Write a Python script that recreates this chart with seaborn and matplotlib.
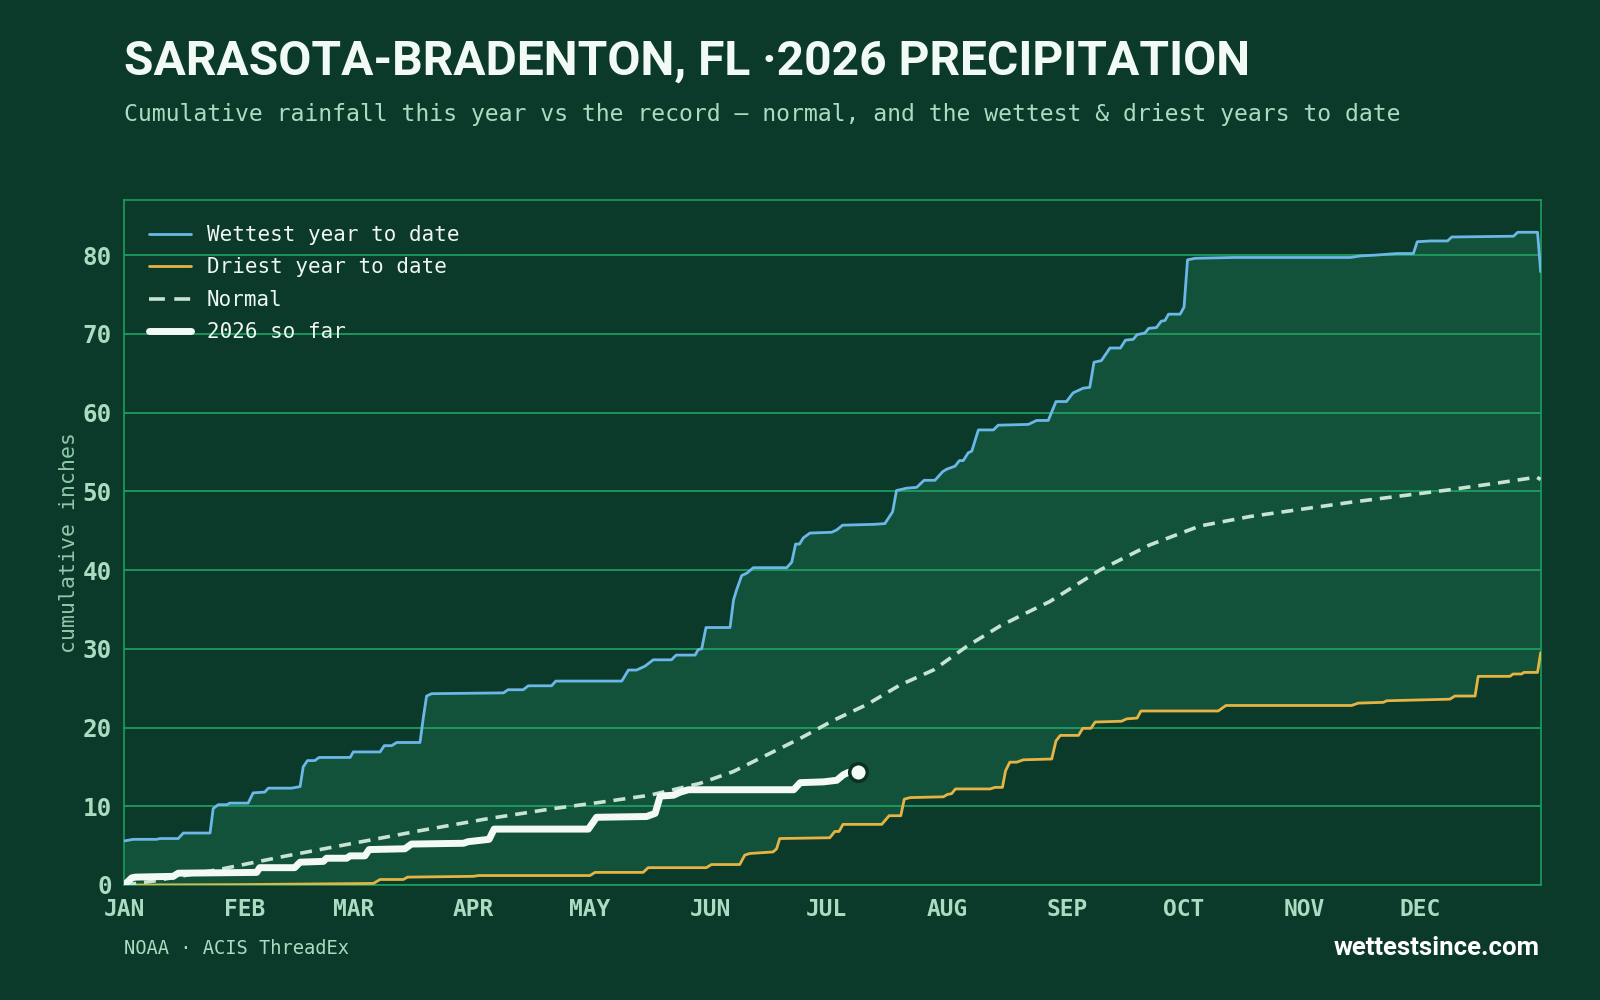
import numpy as np
import pandas as pd
import seaborn as sns
import matplotlib.pyplot as plt

# ---- data (day of year, cumulative inches) ----
wet_day = [0, 2.3, 8.3, 9.2, 13.9, 15.2, 22.1, 22.9, 24.2, 26.4, 27.2, 31.9, 33.2, 36.2, 37.1, 43.1,
           45.3, 46.1, 47.2, 49.1, 50.2, 58.2, 59, 65.9, 67, 68.9, 70.2, 76.2, 77.1, 77.9, 79.2, 97.7,
           98.9, 102.8, 104.1, 110.1, 111.2, 128.2, 129.9, 132, 134.2, 136.3, 141, 142.2, 147.1, 147.9,
           148.8, 149.9, 156.1, 157, 157.8, 159.1, 160.4, 162.1, 170.7, 172, 173, 174, 175, 176.7, 182.3,
           183.6, 185.1, 193, 196, 198, 199, 201.6, 204.2, 206.1, 208.9, 210.9, 211.9, 214.1, 215.2,
           216.2, 217.5, 218.4, 220.1, 224, 225.2, 233, 235.1, 238.1, 240.1, 242.8, 244.5, 247.1, 248.8,
           249.9, 251.8, 254, 256.7, 258, 260, 261, 263, 264, 266, 267.2, 268.2, 269.1, 272.1, 273.1,
           274, 276, 285.9, 316, 318.6, 322.4, 328, 332.2, 333.2, 336.6, 341, 342.1, 358, 359.1, 364.2, 365]
wet_in = [5.6, 5.8, 5.8, 5.9, 5.9, 6.6, 6.6, 9.7, 10.2, 10.2, 10.4, 10.4, 11.7, 11.8, 12.3, 12.3,
          12.5, 15.0, 15.8, 15.8, 16.2, 16.2, 16.9, 16.9, 17.7, 17.7, 18.1, 18.1, 21.4, 24.0, 24.3, 24.4,
          24.8, 24.8, 25.3, 25.3, 25.9, 25.9, 27.3, 27.3, 27.8, 28.6, 28.6, 29.2, 29.2, 29.9,
          30.0, 32.7, 32.7, 36.2, 37.5, 39.3, 39.6, 40.3, 40.3, 41.0, 43.3, 43.3, 44.1, 44.7, 44.8,
          45.1, 45.7, 45.8, 45.9, 47.4, 50.1, 50.4, 50.5, 51.4, 51.4, 52.5, 52.8, 53.2, 53.9,
          53.9, 54.9, 55.1, 57.8, 57.8, 58.4, 58.5, 59.0, 59.0, 61.4, 61.4, 62.5, 63.1, 63.2,
          66.4, 66.6, 68.2, 68.2, 69.2, 69.3, 69.9, 70.1, 70.7, 70.8, 71.6, 71.7, 72.5, 72.5, 73.4,
          79.4, 79.6, 79.7, 79.7, 79.9, 80.0, 80.2, 80.2, 81.7, 81.8, 81.8, 82.3, 82.4, 82.9, 82.9, 77.9]

dry_day = [0, 30, 64.2, 65.9, 71.9, 73, 90, 91.2, 120, 121.3, 133.7, 135, 150, 151.3, 158.6, 159.9,
           161.2, 167.2, 168.1, 168.9, 181.8, 183.1, 184.2, 185.2, 195.2, 197.1, 200.1, 201, 202.5,
           211.1, 212.1, 213.2, 214.2, 223.1, 224.4, 226.3, 227.1, 228.2, 230, 231.7, 239, 240.1, 241.2,
           245.9, 247, 249.1, 250.2, 257, 258.3, 261, 262, 281.9, 283.9, 316.3, 318, 324.5, 325.3,
           341.6, 342.9, 348.1, 348.9, 357.1, 357.9, 360.1, 360.7, 364.2, 365]
dry_in = [0.0, 0.05, 0.2, 0.7, 0.7, 1.0, 1.1, 1.2, 1.2, 1.6, 1.6, 2.2, 2.2, 2.6, 2.6, 3.8,
          4.0, 4.2, 4.6, 5.9, 6.0, 6.8, 6.8, 7.7, 7.7, 8.8, 8.8, 10.9, 11.1,
          11.2, 11.5, 11.6, 12.2, 12.2, 12.4, 12.4, 14.5, 15.6, 15.6, 15.9, 16.0, 18.3, 19.0,
          19.0, 19.9, 19.9, 20.7, 20.8, 21.1, 21.2, 22.1, 22.1, 22.8, 22.8, 23.1, 23.2, 23.4,
          23.6, 24.0, 24.0, 26.5, 26.5, 26.8, 26.8, 27.0, 27.0, 29.5]

norm_day = [0, 7.5, 24.7, 41.8, 59, 76.2, 93.4, 110.5, 122.6, 135.4, 148.3, 156.9, 165.5, 174.1,
            182.7, 191.3, 199.9, 208.5, 217.1, 225.7, 234.3, 238.5, 251.4, 264.3, 277.2, 290.1, 303,
            315.9, 328.7, 341.6, 354.5, 364, 365]
norm_in = [0.0, 0.5, 2.0, 3.7, 5.3, 6.9, 8.4, 9.7, 10.5, 11.4, 12.9, 14.4, 16.5, 18.6,
           20.9, 22.9, 25.4, 27.3, 30.3, 32.9, 35.0, 36.0, 40.0, 43.2, 45.6, 46.8, 47.7,
           48.6, 49.4, 50.2, 51.1, 51.8, 51.5]

cur_day = [0, 1.9, 2.8, 12.6, 13.9, 34.1, 34.9, 43.9, 45.3, 51.3, 52.1, 57.3, 58.2, 62, 63.1, 72.3,
           74, 87.4, 88.6, 94, 95.3, 119.6, 121.7, 134.6, 136.8, 138.1, 141.5, 143.3, 145.4, 172.5,
           174.2, 180.2, 183.6, 185.3, 186.6, 189]
cur_in = [0.0, 0.9, 1.0, 1.1, 1.5, 1.6, 2.2, 2.2, 2.9, 3.0, 3.4, 3.4, 3.7, 3.7, 4.5, 4.6,
          5.2, 5.3, 5.5, 5.8, 7.1, 7.1, 8.6, 8.7, 9.1, 11.3, 11.4, 11.8, 12.1, 12.1,
          13.0, 13.1, 13.3, 14.0, 14.3, 14.4]

month_start = [0, 31, 59, 90, 120, 151, 181, 212, 243, 273, 304, 334]
month_lbl = ['JAN', 'FEB', 'MAR', 'APR', 'MAY', 'JUN', 'JUL', 'AUG', 'SEP', 'OCT', 'NOV', 'DEC']

# ---- colours ----
BG = '#0b3a2a'
BAND = '#13523a'
GRID = '#1d9c60'
MINT = '#a9dcc0'
BLUE = '#6cb7e8'
GOLD = '#e6b444'
NORM = '#c6e4d1'
WHITE = '#f3faf5'

sns.set_theme(style='white')
plt.rcParams['font.family'] = ['DejaVu Sans Mono', 'DejaVu Sans']

fig = plt.figure(figsize=(16, 10), dpi=100, facecolor=BG)
ax = fig.add_axes([0.0777, 0.115, 0.8852, 0.685])
ax.set_facecolor(BG)

wet = pd.DataFrame({'day': wet_day, 'inches': wet_in})
dry = pd.DataFrame({'day': dry_day, 'inches': dry_in})
norm = pd.DataFrame({'day': norm_day, 'inches': norm_in})
cur = pd.DataFrame({'day': cur_day, 'inches': cur_in})

# band between driest and wettest: fill under wettest, then cover under driest
ax.fill_between(wet['day'], 0, wet['inches'], color=BAND, lw=0, zorder=1)
ax.fill_between(dry['day'], 0, dry['inches'], color=BG, lw=0, zorder=1.1)

sns.lineplot(data=wet, x='day', y='inches', ax=ax, color=BLUE, lw=2, label='Wettest year to date', zorder=3)
sns.lineplot(data=dry, x='day', y='inches', ax=ax, color=GOLD, lw=2, label='Driest year to date', zorder=3)
sns.lineplot(data=norm, x='day', y='inches', ax=ax, color=NORM, lw=2.6,
             label='Normal', zorder=3.5).lines[-1].set_dashes((3.3, 2.2))
sns.lineplot(data=cur, x='day', y='inches', ax=ax, color=WHITE, lw=5, label='2026 so far',
             zorder=4, solid_capstyle='round', solid_joinstyle='round')
ax.scatter(cur['day'].iloc[-1:], cur['inches'].iloc[-1:], s=160, color=WHITE,
           edgecolor='#0a3022', linewidth=2.5, zorder=5)

ax.set_xlim(0, 365)
ax.set_ylim(0, 87)
ax.set_xticks(month_start)
ax.set_xticklabels(month_lbl)
ax.set_yticks(range(0, 81, 10))
ax.grid(axis='y', color=GRID, lw=1.3)
ax.grid(axis='x', visible=False)
ax.set_axisbelow('line')
for s in ax.spines.values():
    s.set_color(GRID)
    s.set_linewidth(1.2)
ax.tick_params(axis='both', colors='#9fb8ac', length=6, width=1, direction='out',
               labelcolor=MINT, pad=3)
ax.tick_params(axis='x', labelsize=16.5)
ax.tick_params(axis='y', labelsize=17.5)
for t in ax.get_xticklabels() + ax.get_yticklabels():
    t.set_fontweight('bold')
ax.set_xlabel('')
ax.set_ylabel('cumulative inches', color='#8fc8aa', fontsize=15.5, labelpad=2.5)

leg = ax.legend(loc='upper left', bbox_to_anchor=(0.0, 1.0), frameon=False, fontsize=15,
                labelcolor='#eef7f1', handlelength=2.0, handletextpad=0.75, labelspacing=0.6,
                borderaxespad=0.8)
leg.get_lines()[2].set_dashes((4.4, 2.6))

fig.text(0.0777, 0.938, 'SARASOTA-BRADENTON, FL \u00b72026 PRECIPITATION', color='#f1faf4',
         fontsize=34.6, fontweight='bold', family=['Roboto', 'DejaVu Sans'], va='center', ha='left')
fig.text(0.0777, 0.886, 'Cumulative rainfall this year vs the record \u2014 normal, and the wettest & driest years to date',
         color=MINT, fontsize=16.65, va='center', ha='left')
fig.text(0.0777, 0.052, 'NOAA \u00b7 ACIS ThreadEx', color=MINT, fontsize=13.5, va='center', ha='left')
fig.text(0.962, 0.052, 'wettestsince.com', color='#ffffff', fontsize=18.5, fontweight='bold',
         family=['Roboto', 'DejaVu Sans'], va='center', ha='right')

fig.savefig('out.png', dpi=100, facecolor=BG)
